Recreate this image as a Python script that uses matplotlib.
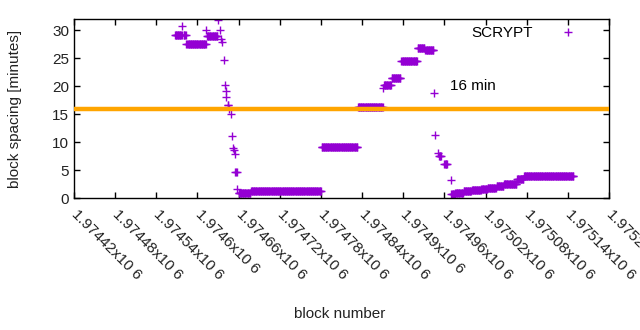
import numpy as np
import matplotlib
matplotlib.use("Agg")
import matplotlib.pyplot as plt

plt.rcParams['font.family'] = ['Liberation Sans', 'DejaVu Sans']
plt.rcParams['font.size'] = 11

# runs of consecutive blocks with the same spacing (first block, last block, minutes)
seg_start = [1974567, 1974578, 1974580, 1974584, 1974613, 1974614, 1974630, 1974633,
             1974635, 1974636, 1974638, 1974640, 1974641, 1974642, 1974644, 1974646,
             1974649, 1974650, 1974652, 1974653, 1974654, 1974655, 1974658, 1974660,
             1974678, 1974781, 1974834, 1974871, 1974872, 1974883, 1974897, 1974921,
             1974932, 1974945, 1974947, 1974950, 1974952, 1974960, 1974969, 1974970,
             1974976, 1974988, 1975000, 1975014, 1975023, 1975036, 1975047, 1975066,
             1975076]
seg_end = [1974577, 1974578, 1974583, 1974612, 1974613, 1974629, 1974630, 1974633,
           1974635, 1974636, 1974638, 1974640, 1974641, 1974642, 1974645, 1974646,
           1974649, 1974650, 1974652, 1974653, 1974654, 1974657, 1974658, 1974677,
           1974780, 1974833, 1974870, 1974871, 1974882, 1974896, 1974920, 1974931,
           1974944, 1974945, 1974947, 1974950, 1974955, 1974964, 1974969, 1974975,
           1974987, 1974999, 1975013, 1975022, 1975035, 1975046, 1975065, 1975075,
           1975148]
seg_value = [29.2, 30.8, 29.2, 27.6, 30.05, 29.0, 31.9, 30.1,
             28.4, 27.9, 24.6, 20.2, 19.1, 18.0, 16.6, 15.9,
             15.1, 11.0, 8.9, 8.5, 7.9, 4.6, 1.6, 0.9,
             1.2, 9.2, 16.3, 19.7, 20.2, 21.5, 24.5, 26.8,
             26.4, 18.7, 11.3, 8.05, 7.45, 6.0, 3.3, 0.8,
             0.96, 1.2, 1.38, 1.6, 1.86, 2.2, 2.57, 3.47,
             4.0]

target_minutes = 16
xtick_values = [1974420 + 60 * k for k in range(14)]

blocks = []
spacing = []
for s, e, v in zip(seg_start, seg_end, seg_value):
    for b in range(s, e + 1):
        blocks.append(b)
        spacing.append(v)

fig = plt.figure(figsize=(6.4, 3.3), dpi=100)
ax = fig.add_axes([74 / 640, 132 / 330, 535 / 640, 179 / 330])

ax.plot(blocks, spacing, linestyle='none', marker='+', color='#9400d3',
        markersize=6, markeredgewidth=1, label='SCRYPT')
ax.axhline(target_minutes, color='#ffa500', linewidth=3.2, zorder=5)
ax.text(1974968, 20, "16 min", va='center', ha='left')

ax.set_xlim(1974420, 1975200)
ax.set_ylim(0, 32)
ax.set_yticks([0, 5, 10, 15, 20, 25, 30])
ax.set_xticks(xtick_values)
ax.set_xticklabels([f"{v / 1e6:g}x10 6" for v in xtick_values],
                   rotation=-45, ha='left', va='center', rotation_mode='anchor')
ax.tick_params(direction='in', length=4, width=1, top=True, right=True,
               colors='black', labelcolor='#222222')
ax.tick_params(axis='x', pad=10)
for sp in ax.spines.values():
    sp.set_linewidth(1)

ax.set_ylabel("block spacing [minutes]", color='#222222')
ax.yaxis.set_label_coords(-0.097, 0.5)
ax.set_xlabel("block number", color='#222222')
ax.xaxis.set_label_coords(0.497, -0.61)

ax.legend(loc='center right', bbox_to_anchor=(583 / 640, 1 - 33 / 330),
          bbox_transform=fig.transFigure, frameon=False, markerfirst=False,
          handlelength=2.0, handletextpad=1.3, borderpad=0, borderaxespad=0,
          numpoints=1)

fig.savefig("out.png", dpi=100)
